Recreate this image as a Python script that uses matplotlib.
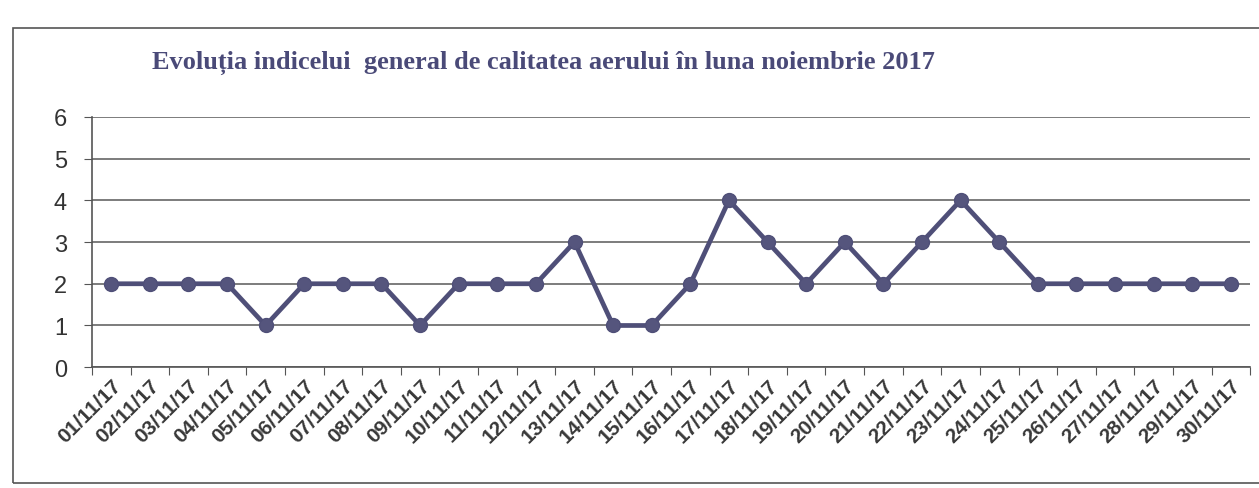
import matplotlib
matplotlib.use("Agg")
import matplotlib.pyplot as plt
from matplotlib.patches import Rectangle

zile = ["%02d/11/17" % d for d in range(1, 31)]
indice = [2, 2, 2, 2, 1, 2, 2, 2, 1, 2, 2, 2, 3, 1, 1, 2, 4, 3, 2, 3,
          2, 3, 4, 3, 2, 2, 2, 2, 2, 2]
titlu = "Evoluția indicelui  general de calitatea aerului în luna noiembrie 2017"

fig = plt.figure(figsize=(12.59, 4.89), dpi=100)
fig.patches.append(Rectangle((0.010, 0.01), 1.2, 0.93, transform=fig.transFigure,
                             fill=False, edgecolor="#555555", linewidth=1.2))

ax = fig.add_axes([0.073, 0.247, 0.920, 0.512])
x = list(range(len(zile)))
ax.plot(x, indice, color="#4f4f78", linewidth=3.4, marker="o", markersize=10,
        markerfacecolor="#55557d", markeredgecolor="#4f4f78", zorder=3)

ax.set_xlim(-0.5, len(zile) - 0.5)
ax.set_ylim(0, 6)
ax.set_yticks(range(0, 7))
ax.yaxis.grid(True, color="#666666", linewidth=1.2)
ax.set_axisbelow(True)

ax.set_xticks([i - 0.5 for i in range(len(zile) + 1)], minor=False)
ax.set_xticklabels([])
ax.set_xticks(x, minor=True)
ax.set_xticklabels(zile, minor=True, rotation=45, ha="right", rotation_mode="anchor",
                   fontsize=15, fontweight="bold", color="#383838", family="Liberation Sans")
ax.tick_params(axis="x", which="minor", length=0, pad=6)
ax.tick_params(axis="x", which="major", length=6, color="#555555")
ax.tick_params(axis="y", length=6, color="#555555", labelsize=17, labelcolor="#333333", pad=12)
for lab in ax.get_yticklabels():
    lab.set_family("Liberation Sans")

for s in ["top", "right"]:
    ax.spines[s].set_visible(False)
ax.spines["left"].set_color("#555555")
ax.spines["bottom"].set_color("#555555")
ax.spines["left"].set_linewidth(1.2)
ax.spines["bottom"].set_linewidth(1.2)

fig.text(0.121, 0.86, titlu, family="Liberation Serif", fontweight="bold",
         fontsize=19, color="#4a4a78")

fig.savefig("out.png", dpi=100)
